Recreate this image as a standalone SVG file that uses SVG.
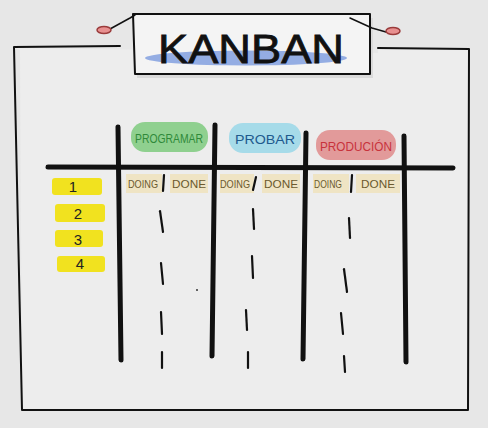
<svg xmlns="http://www.w3.org/2000/svg" width="488" height="428" viewBox="0 0 488 428">
<style>
.ink{fill:none;stroke:#111;stroke-linecap:round;stroke-linejoin:round}
.thin{stroke-width:2}
.thick{stroke-width:5}
.dash{stroke-width:2.2}
.hdr{font-family:"Liberation Sans",Arial,sans-serif;font-size:13px;text-anchor:middle}
.sub{font-family:"Liberation Sans",Arial,sans-serif;font-size:11px;fill:#6b5a2e;text-anchor:middle}
.num{font-family:"Liberation Sans",Arial,sans-serif;font-size:15px;fill:#222;text-anchor:middle}
.tan{fill:#efe4c4}
.yel{fill:#f1e21f}
</style>
<rect width="488" height="428" fill="#e7e7e7"/>
<g id="board">
<path d="M16 48 L20 50 L22 410 L468 410 L468 48 L378 48 L378 53" fill="#ededed" stroke="none"/>
<path d="M120 46 L14 47 L22 410 L468 410 L469 49 L378 48" class="ink thin"/>
</g>
<g id="title">
<rect x="137" y="18" width="236" height="60" fill="#dadada"/>
<path d="M133 14 L370 14 L370 74 L135 74 Z" fill="#f4f4f4" stroke="#111" stroke-width="2" stroke-linejoin="round"/>
<ellipse cx="246" cy="58" rx="101" ry="7.5" fill="#94ade3"/>
<text x="251" y="63" font-family="Liberation Sans,Arial,sans-serif" font-size="40" fill="#111" stroke="#111" stroke-width="0.8" text-anchor="middle" textLength="186" lengthAdjust="spacingAndGlyphs">KANBAN</text>
<path d="M110 29 L130 18 L135 15" class="ink" stroke-width="1.5"/>
<ellipse cx="104" cy="30" rx="7" ry="3.5" fill="#e89090" stroke="#9a3b3b" stroke-width="1.5"/>
<path d="M350 18 L372 28 L386 32" class="ink" stroke-width="1.5"/>
<ellipse cx="393" cy="31" rx="7" ry="3.5" fill="#e89090" stroke="#9a3b3b" stroke-width="1.5"/>
</g>
<g id="col-programar">
<rect x="131" y="122" width="77" height="30" rx="14" fill="#8fd08f"/>
<text x="169" y="143" class="hdr" fill="#2f8a3a" textLength="68" lengthAdjust="spacingAndGlyphs">PROGRAMAR</text>
</g>
<g id="col-probar">
<rect x="229" y="123" width="72" height="30" rx="14" fill="#a6dbe9"/>
<text x="265" y="144" class="hdr" fill="#1e5a8e" textLength="60" lengthAdjust="spacingAndGlyphs">PROBAR</text>
</g>
<g id="col-produccion">
<rect x="316" y="130" width="80" height="30" rx="14" fill="#e29a9a"/>
<text x="356" y="151" class="hdr" fill="#c8323c" textLength="72" lengthAdjust="spacingAndGlyphs">PRODUCIÓN</text>
</g>
<g id="subheaders">
<rect x="126" y="174" width="36" height="19" class="tan"/>
<rect x="170" y="174" width="38" height="19" class="tan"/>
<rect x="220" y="174" width="34" height="19" class="tan"/>
<rect x="262" y="174" width="38" height="19" class="tan"/>
<rect x="313" y="174" width="36" height="19" class="tan"/>
<rect x="356" y="174" width="44" height="19" class="tan"/>
<text x="143" y="188" class="sub" textLength="30" lengthAdjust="spacingAndGlyphs">DOING</text>
<text x="189" y="188" class="sub" textLength="34" lengthAdjust="spacingAndGlyphs">DONE</text>
<text x="235" y="188" class="sub" textLength="30" lengthAdjust="spacingAndGlyphs">DOING</text>
<text x="281" y="188" class="sub" textLength="34" lengthAdjust="spacingAndGlyphs">DONE</text>
<text x="328" y="188" class="sub" textLength="28" lengthAdjust="spacingAndGlyphs">DOING</text>
<text x="378" y="188" class="sub" textLength="34" lengthAdjust="spacingAndGlyphs">DONE</text>
</g>
<g id="rows">
<g id="row-1"><rect x="52" y="178" width="50" height="17" rx="3" class="yel"/><text x="73" y="192" class="num">1</text></g>
<g id="row-2"><rect x="55" y="204" width="50" height="18" rx="3" class="yel"/><text x="78" y="219" class="num">2</text></g>
<g id="row-3"><rect x="55" y="230" width="48" height="17" rx="3" class="yel"/><text x="78" y="245" class="num">3</text></g>
<g id="row-4"><rect x="57" y="256" width="48" height="16" rx="3" class="yel"/><text x="80" y="269" class="num">4</text></g>
</g>
<g id="connectors">
<path d="M48 167 L453 168" class="ink thick"/>
<path d="M118 127 L121 360" class="ink thick"/>
<path d="M215 125 L212 356" class="ink thick"/>
<path d="M306 133 L303 359" class="ink thick"/>
<path d="M404 136 L406 362" class="ink thick"/>
<path d="M164 175 L163 191" class="ink dash"/>
<path d="M256 177 L253 190" class="ink dash"/>
<path d="M352 175 L351 192" class="ink dash"/>
<path d="M160 211 L163 232" class="ink dash"/>
<path d="M161 263 L163 284" class="ink dash"/>
<path d="M161 312 L162 334" class="ink dash"/>
<path d="M162 352 L162 368" class="ink dash"/>
<path d="M253 209 L254 229" class="ink dash"/>
<path d="M252 256 L253 278" class="ink dash"/>
<path d="M246 310 L247 330" class="ink dash"/>
<path d="M248 352 L248 368" class="ink dash"/>
<path d="M349 218 L350 238" class="ink dash"/>
<path d="M344 269 L347 292" class="ink dash"/>
<path d="M341 313 L343 334" class="ink dash"/>
<path d="M344 356 L345 372" class="ink dash"/>
<circle cx="197" cy="290" r="1" fill="#333"/>
</g>
</svg>
